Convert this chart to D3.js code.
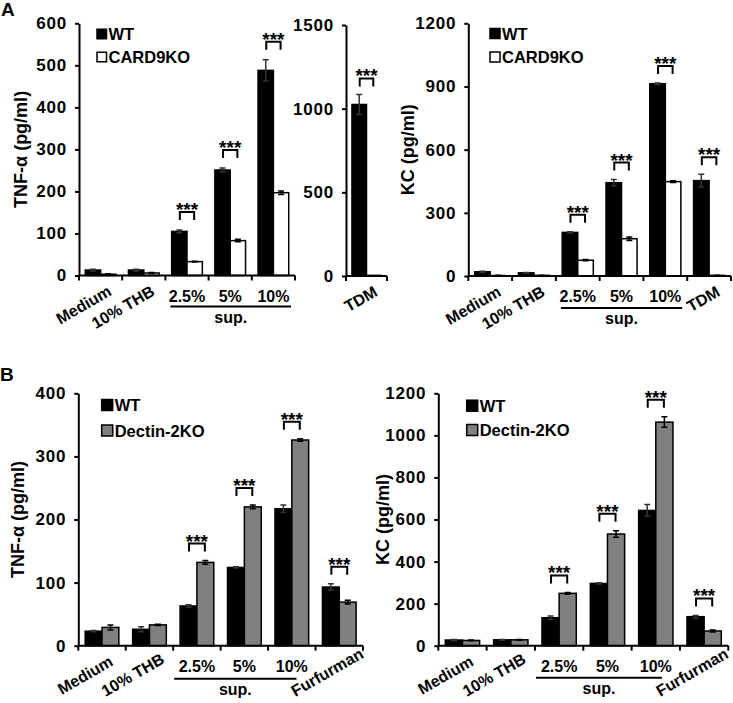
<!DOCTYPE html>
<html><head><meta charset="utf-8">
<script src="https://cdn.jsdelivr.net/npm/d3@7"></script>
<style>
body{margin:0;background:#fff}
svg text{font-family:"Liberation Sans",Arial,sans-serif;font-weight:bold;fill:#000}
</style></head><body>
<svg id="c" width="733" height="703"></svg>
<script>
// ---------- data ----------
const catsA = ["Medium","10% THB","2.5%","5%","10%"];
const tnfA_WT = [13,13,105,251,488];
const tnfA_WTerr = [2,2,3,5,25];
const tnfA_KO = [3,6,33,83,197];
const tnfA_KOerr = [1,1,1,3,4];
const tnfA_sig = [false,false,true,true,true];

const catsTDM = ["TDM"];
const tdm_WT = [1025];
const tdm_WTerr = [60];
const tdm_KO = [4];
const tdm_KOerr = [0];
const tdm_sig = [true];

const catsAKC = ["Medium","10% THB","2.5%","5%","10%","TDM"];
const kcA_WT = [20,15,207,443,913,453];
const kcA_WTerr = [3,2,3,15,4,30];
const kcA_KO = [2,3,75,177,448,3];
const kcA_KOerr = [1,1,3,8,4,1];
const kcA_sig = [false,false,true,true,true,true];

const catsB = ["Medium","10% THB","2.5%","5%","10%","Furfurman"];
const tnfB_WT = [23,26,63,124,217,93];
const tnfB_WTerr = [1,4,2,1,6,5];
const tnfB_D2 = [29,33,132,220,326,69];
const tnfB_D2err = [4,1,3,3,2,3];
const tnfB_sig = [false,false,true,true,true,true];

const kcB_WT = [27,28,133,296,643,138];
const kcB_WTerr = [3,2,8,3,28,6];
const kcB_D2 = [25,28,249,531,1063,70];
const kcB_D2err = [2,2,4,15,25,5];
const kcB_sig = [false,false,true,true,true,true];

const ticksTnfA = [0,100,200,300,400,500,600];
const ticksTDM = [0,500,1000,1500];
const ticksKcA = [0,300,600,900,1200];
const ticksTnfB = [0,100,200,300,400];
const ticksKcB = [0,200,400,600,800,1000,1200];

const supCats = ["2.5%","5%","10%"];
const supLabel = "sup.";
const nameWT = "WT", nameKO = "CARD9KO", nameD2 = "Dectin-2KO";
const titleTNF = "TNF-α (pg/ml)", titleKC = "KC (pg/ml)";
const sigText = "***";

// ---------- drawing ----------
const svg = d3.select("#c");
const FILL_WT = "#000", FILL_KO = "#fff", FILL_D2 = "#808080";
const ANG = 30;
const RAD = ANG * Math.PI / 180;

function panel(o) {
  const g = svg.append("g");
  const x = d3.scaleBand().domain(o.cats).range([o.x0, o.x1]);
  const y = d3.scaleLinear().domain([0, o.max]).range([o.yb, o.yt]);
  const bw = x.bandwidth() * 0.355;
  const n = o.series.length;
  const bx = (d, si) => x(d) + x.bandwidth() / 2 + (si - n / 2) * bw;

  o.series.forEach((s, si) => {
    g.append("g").selectAll("rect").data(o.cats).join("rect")
      .attr("x", d => bx(d, si))
      .attr("y", (d, i) => y(s.vals[i]))
      .attr("width", bw)
      .attr("height", (d, i) => y(0) - y(s.vals[i]))
      .attr("fill", s.fill).attr("stroke", "#000").attr("stroke-width", 1.5);
    const eg = g.append("g").attr("stroke", s.fill === FILL_WT ? "#333" : "#000").attr("stroke-width", 1.5).attr("fill", "none");
    o.cats.forEach((d, i) => {
      const e = s.errs[i];
      if (!e) return;
      const cx = bx(d, si) + bw / 2;
      const y1 = y(s.vals[i] + e), y2 = y(Math.max(0, s.vals[i] - e));
      eg.append("path").attr("d", `M${cx},${y1}V${y2}M${cx - 3},${y1}H${cx + 3}M${cx - 3},${y2}H${cx + 3}`);
    });
  });

  // significance brackets
  o.cats.forEach((d, i) => {
    if (!o.sig[i]) return;
    const topVal = d3.max(o.series, s => s.vals[i] + s.errs[i]);
    const bottom = y(topVal) - o.gap;
    const top = bottom - 8;
    const c1 = bx(d, 0) + bw / 2 + 0.5, c2 = bx(d, 1) + bw / 2 - 0.5;
    g.append("path").attr("d", `M${c1},${bottom}V${top}H${c2}V${bottom}`)
      .attr("fill", "none").attr("stroke", "#000").attr("stroke-width", 2);
    g.append("text").attr("x", (c1 + c2) / 2).attr("y", top + 4)
      .attr("text-anchor", "middle").style("font-size", "19px").text(sigText);
  });

  // y axis
  const ya = g.append("g").attr("transform", `translate(${o.x0},0)`)
    .call(d3.axisLeft(y).tickValues(o.ticks).tickSize(4).tickSizeOuter(0).tickPadding(8).tickFormat(d3.format("d")));
  ya.select(".domain").attr("stroke", "#000").attr("stroke-width", 2);
  ya.selectAll(".tick line").attr("stroke", "#000").attr("stroke-width", 2);
  ya.selectAll(".tick text").style("font-size", "17px").style("letter-spacing", "0.8px");

  // x axis
  g.append("line").attr("x1", o.x0).attr("x2", o.x1).attr("y1", o.yb).attr("y2", o.yb)
    .attr("stroke", "#000").attr("stroke-width", 2);
  const bounds = o.cats.map(d => x(d)).concat([x.range()[1]]);
  g.selectAll(null).data(bounds).join("line")
    .attr("x1", d => d).attr("x2", d => d).attr("y1", o.yb).attr("y2", o.yb + 5)
    .attr("stroke", "#000").attr("stroke-width", 2);

  // category labels
  o.cats.forEach(d => {
    const cx = x(d) + x.bandwidth() / 2;
    if (supCats.includes(d)) {
      g.append("text").attr("x", cx).attr("y", o.yb + 26).attr("text-anchor", "middle")
        .style("font-size", "16px").text(d);
    } else {
      let ex = cx + 12, ey = o.yb + 19;
      const wrap = g.append("g").attr("transform", `translate(${ex},${ey}) rotate(${-ANG})`);
      const t = wrap.append("text").attr("x", 0).attr("y", 0).attr("text-anchor", "end")
        .style("font-size", "16px").text(d);
      // keep the label inside the picture: slide it up along its own direction if needed
      const len = t.node().getComputedTextLength();
      const bottomY = ey + len * Math.sin(RAD) + 4;
      if (bottomY > 701) {
        const k = (bottomY - 701) / Math.sin(RAD);
        ex += k * Math.cos(RAD);
        ey -= k * Math.sin(RAD);
        wrap.attr("transform", `translate(${ex},${ey}) rotate(${-ANG})`);
      }
    }
  });

  // sup. line
  const supIn = o.cats.filter(d => supCats.includes(d));
  if (supIn.length) {
    const lx1 = x(supIn[0]) + o.supOff[0];
    const lx2 = x(supIn[supIn.length - 1]) + x.bandwidth() + o.supOff[1];
    const ly = o.yb + o.supY;
    g.append("line").attr("x1", lx1).attr("x2", lx2).attr("y1", ly).attr("y2", ly)
      .attr("stroke", "#000").attr("stroke-width", 2);
    g.append("text").attr("x", (lx1 + lx2) / 2).attr("y", ly + 16).attr("text-anchor", "middle")
      .style("font-size", "16px").text(supLabel);
  }

  // y title
  if (o.title) {
    g.append("text").attr("transform", `translate(${o.titleX},${(o.yb + o.yt) / 2}) rotate(-90)`)
      .attr("text-anchor", "middle").attr("dominant-baseline", "central")
      .style("font-size", "18px").text(o.title);
  }

  // legend
  if (o.legend) {
    const L = o.legend;
    o.series.forEach((s, si) => {
      const cy = L.y[si];
      g.append("rect").attr("x", L.x).attr("y", cy - L.size / 2).attr("width", L.size).attr("height", L.size)
        .attr("fill", s.fill).attr("stroke", "#000").attr("stroke-width", 1.5);
      g.append("text").attr("x", L.x + L.size + 2).attr("y", cy).attr("dominant-baseline", "central")
        .style("font-size", "16.5px").text(s.name);
    });
  }
}

panel({cats: catsA, x0: 79, x1: 295, yb: 275.5, yt: 23.3, max: 600, ticks: ticksTnfA,
  series: [{name: nameWT, vals: tnfA_WT, errs: tnfA_WTerr, fill: FILL_WT},
           {name: nameKO, vals: tnfA_KO, errs: tnfA_KOerr, fill: FILL_KO}],
  sig: tnfA_sig, gap: 10, title: titleTNF, titleX: 20.5,
  legend: {x: 97, y: [34, 57], size: 9.5}, supOff: [5, -4], supY: 31});

panel({cats: catsTDM, x0: 346, x1: 387, yb: 276, yt: 25, max: 1500, ticks: ticksTDM,
  series: [{name: nameWT, vals: tdm_WT, errs: tdm_WTerr, fill: FILL_WT},
           {name: nameKO, vals: tdm_KO, errs: tdm_KOerr, fill: FILL_KO}],
  sig: tdm_sig, gap: 8, supOff: [0, 0], supY: 31});

panel({cats: catsAKC, x0: 468.3, x1: 731, yb: 276, yt: 23.3, max: 1200, ticks: ticksKcA,
  series: [{name: nameWT, vals: kcA_WT, errs: kcA_WTerr, fill: FILL_WT},
           {name: nameKO, vals: kcA_KO, errs: kcA_KOerr, fill: FILL_KO}],
  sig: kcA_sig, gap: 9, title: titleKC, titleX: 408,
  legend: {x: 490, y: [33.5, 57], size: 10}, supOff: [5, -5], supY: 32});

panel({cats: catsB, x0: 78.3, x1: 363, yb: 645.7, yt: 393.3, max: 400, ticks: ticksTnfB,
  series: [{name: nameWT, vals: tnfB_WT, errs: tnfB_WTerr, fill: FILL_WT},
           {name: nameD2, vals: tnfB_D2, errs: tnfB_D2err, fill: FILL_D2}],
  sig: tnfB_sig, gap: 9, title: titleTNF, titleX: 18,
  legend: {x: 101.7, y: [405, 430.5], size: 11}, supOff: [1, -19], supY: 33});

panel({cats: catsB, x0: 438.3, x1: 728.3, yb: 645.7, yt: 393.3, max: 1200, ticks: ticksKcB,
  series: [{name: nameWT, vals: kcB_WT, errs: kcB_WTerr, fill: FILL_WT},
           {name: nameD2, vals: kcB_D2, errs: kcB_D2err, fill: FILL_D2}],
  sig: kcB_sig, gap: 9, title: titleKC, titleX: 382.5,
  legend: {x: 466.7, y: [405.7, 430], size: 11}, supOff: [1, -18], supY: 32});

svg.append("text").attr("x", 1).attr("y", 16).style("font-size", "19px").text("A");
svg.append("text").attr("x", 0).attr("y", 381).style("font-size", "19px").text("B");
</script>
</body></html>
